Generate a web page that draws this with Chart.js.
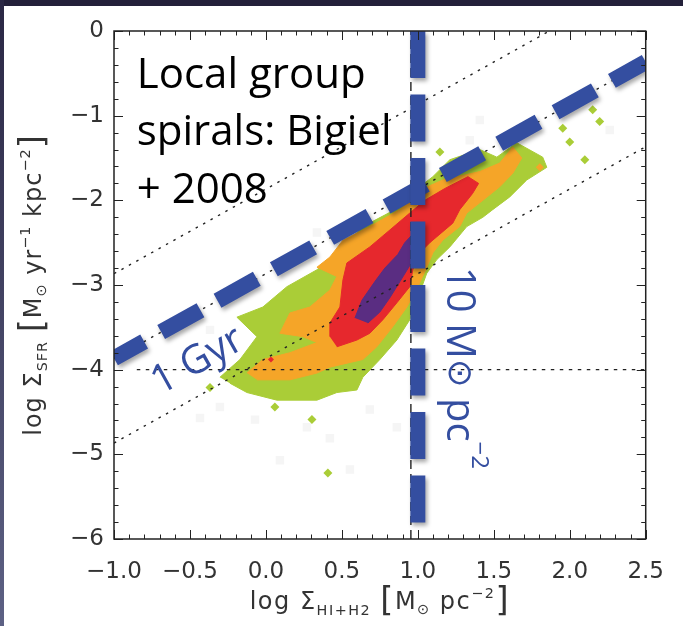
<!DOCTYPE html>
<html>
<head>
<meta charset="utf-8">
<script src="https://cdn.jsdelivr.net/npm/chart.js@4.4.0/dist/chart.umd.min.js"></script>
<style>
  html, body { margin: 0; padding: 0; background: #fff; }
  #wrap { position: relative; width: 683px; height: 626px; overflow: hidden; background: #fff; }
  #wrap canvas { position: absolute; left: 0; top: 0; }
  #topband { position: absolute; left: 0; top: 0; width: 683px; height: 6px; background: #23203a; }
  #leftband { position: absolute; left: 0; top: 0; width: 4px; height: 626px; background: linear-gradient(#2a2744, #5d6184); }
</style>
</head>
<body>
<div id="wrap">
  <canvas id="ksPlot" width="683" height="626"></canvas>
  <div id="topband"></div>
  <div id="leftband"></div>
</div>
<script>
// axis ticks
const xTicks = [-1.0, -0.5, 0.0, 0.5, 1.0, 1.5, 2.0, 2.5];
const yTicks = [0, -1, -2, -3, -4, -5, -6];

// reference lines
const depletionTimes = [1e8, 1e9, 1e10];   // yr, dotted lines
const heliumFactor = 1.36;
const gyrTime = 1e9;                       // thick blue dashed line
const gasThreshold = 10;                   // Msun pc^-2, thick blue vertical
const hiSaturation = 9;                    // Msun pc^-2, thin black dashed
const sfrFloor = -4;                       // horizontal dotted line

// density contours of the pixel distribution, outer to inner [log gas, log SFR]
const contourGreen = [
  [-0.303, -4.09], [-0.171, -3.88], [-0.059, -3.61], [-0.191, -3.38], [-0.020, -3.26],
  [0.138, -3.02], [0.336, -2.82], [0.487, -2.59], [0.638, -2.31], [0.882, -2.08],
  [1.013, -1.84], [1.099, -1.72], [1.211, -1.52], [1.408, -1.40], [1.520, -1.49],
  [1.651, -1.32], [1.822, -1.49], [1.849, -1.61], [1.717, -1.76], [1.605, -1.96],
  [1.493, -2.11], [1.428, -2.20], [1.322, -2.31], [1.211, -2.55], [1.125, -2.70],
  [1.059, -2.86], [1.013, -3.09], [0.947, -3.41], [0.862, -3.65], [0.750, -3.88],
  [0.638, -4.09], [0.599, -4.24], [0.467, -4.27], [0.336, -4.36], [0.072, -4.36],
  [-0.125, -4.27], [-0.237, -4.16]
];
const contourOrange = [
  [-0.125, -4.04], [-0.020, -3.88], [0.158, -3.80], [0.336, -3.68], [0.243, -3.61],
  [0.092, -3.57], [0.158, -3.33], [0.289, -3.26], [0.421, -3.06], [0.467, -2.90],
  [0.336, -2.79], [0.421, -2.67], [0.507, -2.47], [0.684, -2.31], [0.882, -2.11],
  [1.013, -1.88], [1.164, -1.76], [1.408, -1.66], [1.539, -1.56], [1.625, -1.37],
  [1.684, -1.50], [1.625, -1.68], [1.539, -1.84], [1.428, -2.00], [1.322, -2.15],
  [1.276, -2.31], [1.164, -2.47], [1.099, -2.62], [1.059, -2.79], [1.000, -3.02],
  [0.928, -3.26], [0.836, -3.49], [0.730, -3.73], [0.638, -3.88], [0.421, -3.97],
  [0.336, -4.04], [0.158, -4.12], [-0.059, -4.12]
];
const contourRed = [
  [0.421, -3.61], [0.421, -3.45], [0.487, -3.26], [0.507, -2.94], [0.533, -2.74],
  [0.684, -2.55], [0.816, -2.35], [0.947, -2.15], [1.046, -2.00], [1.178, -1.86],
  [1.330, -1.72], [1.400, -1.80], [1.360, -1.92], [1.276, -2.11], [1.230, -2.27],
  [1.125, -2.43], [1.079, -2.50], [1.013, -2.62], [0.967, -2.82], [0.947, -3.02],
  [0.862, -3.21], [0.770, -3.41], [0.684, -3.57], [0.599, -3.65], [0.467, -3.73]
];
const contourPurple = [
  [0.586, -3.39], [0.632, -3.18], [0.717, -2.96], [0.783, -2.80], [0.868, -2.64],
  [0.914, -2.50], [0.961, -2.41], [1.026, -2.37], [1.013, -2.59], [0.947, -2.77],
  [0.882, -2.96], [0.816, -3.15], [0.750, -3.32], [0.671, -3.45]
];
const greenSpots = [
  [0.059, -4.44], [0.303, -4.59], [-0.368, -4.21], [0.408, -5.22], [1.145, -1.43],
  [1.954, -1.15], [2.151, -0.93], [2.197, -1.07], [2.000, -1.31], [2.099, -1.52]
];
const orangeSpots = [[1.803, -1.61]];
const redSpots = [[0.033, -3.88]];
const sparseCells = [
  [-0.434, -4.57], [-0.072, -4.59], [0.270, -4.68], [0.421, -4.81], [0.862, -4.68],
  [-0.303, -4.44], [0.684, -4.47], [0.336, -2.38], [-0.368, -3.53], [1.342, -1.29],
  [1.737, -1.11], [2.033, -0.81], [2.263, -1.17], [1.408, -1.05], [0.553, -5.18],
  [0.092, -5.07]
];

// text drawn on the panel
const captionLines = ['Local group', 'spirals: Bigiel', '+ 2008'];
const captionX = -0.85;
const captionY = [-0.67, -1.35, -2.03];
const gyrLabelAt = [-0.45, -3.9];
const thresholdLabelAt = [1.27, -3.98];

const blue = '#344ea0';
const pts = arr => arr.map(([x, y]) => ({x, y}));
const xEnds = [-1, 2.5];
const depletionLine = tau => xEnds.map(x => ({x, y: x + Math.log10(heliumFactor) + 6 - Math.log10(tau)}));

function polygon(data, color, order) {
  return {type: 'line', data: pts(data), fill: 'shape', backgroundColor: color, borderColor: color,
          borderWidth: 1, pointRadius: 0, order, clip: 0};
}
function spots(data, color, style, r, order) {
  return {type: 'scatter', data: pts(data), backgroundColor: color, borderWidth: 0,
          pointStyle: style, pointRadius: r, order, clip: 0};
}
function rule(data, color, width, dash, order, extra) {
  return Object.assign({type: 'line', data, borderColor: color, borderWidth: width, borderDash: dash,
          borderCapStyle: 'butt', pointRadius: 0, fill: false, order, clip: 0}, extra || {});
}

const datasets = [
  spots(sparseCells, '#f5f5f5', 'rect', 6, 9),
  polygon(contourGreen, '#aacd37', 8),
  spots(greenSpots, '#aacd37', 'rectRot', 4.5, 7),
  polygon(contourOrange, '#f5a528', 6),
  spots(orangeSpots, '#f5a528', 'rectRot', 4, 6),
  polygon(contourRed, '#e6282d', 5),
  spots(redSpots, '#e6282d', 'rectRot', 3, 5),
  polygon(contourPurple, '#5a2d82', 4),
  ...depletionTimes.map(t => rule(depletionLine(t), '#222', 1.4, [2.5, 6], 3)),
  rule([{x: -0.85, y: sfrFloor}, {x: 2.5, y: sfrFloor}], '#222', 1.4, [3.5, 5.5], 3),
  rule([{x: Math.log10(hiSaturation), y: -6}, {x: Math.log10(hiSaturation), y: 0}], '#222', 1.4, [9, 5], 2),
  rule(depletionLine(gyrTime), blue, 16, [45, 19.5], 1, {shadow: true, borderDashOffset: 10.5}),
  rule([{x: Math.log10(gasThreshold), y: 0}, {x: Math.log10(gasThreshold), y: -6}], blue, 15, [47, 16.5], 0, {shadow: true})
];

const minus = s => String(s).replace('-', '\u2212');

// soft drop shadow under the thick blue lines
const shadowPlugin = {
  id: 'shadow',
  beforeDatasetDraw(chart, args) {
    if (!chart.data.datasets[args.index].shadow) return;
    const ctx = chart.ctx;
    ctx.save();
    ctx.shadowColor = 'rgba(0,0,0,0.35)';
    ctx.shadowBlur = 4;
    ctx.shadowOffsetX = 2;
    ctx.shadowOffsetY = 3;
  },
  afterDatasetDraw(chart, args) {
    if (chart.data.datasets[args.index].shadow) chart.ctx.restore();
  }
};

// axis box with inward major and minor ticks on all four sides
const framePlugin = {
  id: 'frame',
  afterDatasetsDraw(chart) {
    const {ctx, chartArea: a, scales: {x, y}} = chart;
    ctx.save();
    ctx.strokeStyle = '#222';
    ctx.lineWidth = 1;
    ctx.beginPath();
    for (let i = -10; i <= 25; i++) {
      const px = Math.round(x.getPixelForValue(i / 10)) + 0.5;
      const len = i % 5 === 0 ? 9 : 4.5;
      ctx.moveTo(px, a.bottom); ctx.lineTo(px, a.bottom - len);
      ctx.moveTo(px, a.top); ctx.lineTo(px, a.top + len);
    }
    for (let i = -30; i <= 0; i++) {
      const py = Math.round(y.getPixelForValue(i / 5)) + 0.5;
      const len = i % 5 === 0 ? 9 : 4.5;
      ctx.moveTo(a.left, py); ctx.lineTo(a.left + len, py);
      ctx.moveTo(a.right, py); ctx.lineTo(a.right - len, py);
    }
    ctx.stroke();
    ctx.lineWidth = 1.5;
    ctx.strokeRect(a.left, a.top, a.right - a.left, a.bottom - a.top);
    ctx.restore();
  }
};

// text runs with sub/superscripts: [text, size factor, rise in em]
function richWidth(ctx, parts, size, family) {
  let w = 0;
  for (const [t, s] of parts) {
    ctx.font = `${size * s}px ${family}`;
    w += ctx.measureText(t).width;
  }
  return w;
}
function drawRich(ctx, parts, x0, y0, size, family) {
  let cx = x0;
  for (const [t, s, rise = 0] of parts) {
    ctx.font = `${size * s}px ${family}`;
    ctx.fillText(t, cx, y0 - rise * size);
    cx += ctx.measureText(t).width;
  }
}

const axisFont = '"DejaVu Sans"';
const yTitle = [['log ', 1], ['\u03A3', 1], ['SFR', 0.6, -0.25], [' ', 1], ['[', 1.4, -0.1], ['M', 1], ['\u2299', 0.6, -0.2],
                [' yr', 1], ['\u22121', 0.6, 0.45], [' kpc', 1], ['\u22122', 0.6, 0.45], [']', 1.4, -0.1]];
const xTitle = [['log ', 1], ['\u03A3', 1], ['HI+H2', 0.6, -0.25], [' ', 1], ['[', 1.4, -0.1], ['M', 1], ['\u2299', 0.6, -0.2],
                [' pc', 1], ['\u22122', 0.6, 0.45], [']', 1.4, -0.1]];
const thresholdText = [['10 M', 1], ['\u2299', 0.85], [' pc', 1], ['\u22122', 0.6, 0.5]];

const labelPlugin = {
  id: 'labels',
  afterDraw(chart) {
    const {ctx, chartArea: a, scales: {x, y}} = chart;
    ctx.save();
    ctx.textBaseline = 'alphabetic';
    ctx.textAlign = 'left';

    // axis titles, widely spaced
    ctx.fillStyle = '#333';
    ctx.letterSpacing = '1.5px';
    let w = richWidth(ctx, xTitle, 24, axisFont);
    drawRich(ctx, xTitle, (a.left + a.right) / 2 - w / 2, 609, 24, axisFont);
    ctx.letterSpacing = '1px';
    ctx.save();
    ctx.translate(41, (a.top + a.bottom) / 2);
    ctx.rotate(-Math.PI / 2);
    w = richWidth(ctx, yTitle, 24, axisFont);
    drawRich(ctx, yTitle, -w / 2, 0, 24, axisFont);
    ctx.restore();
    ctx.letterSpacing = '0px';

    // caption
    ctx.fillStyle = '#000';
    ctx.font = '42px "Open Sans"';
    captionLines.forEach((t, i) => ctx.fillText(t, x.getPixelForValue(captionX), y.getPixelForValue(captionY[i])));

    // 1 Gyr label along the depletion line
    ctx.fillStyle = blue;
    const g = depletionLine(gyrTime);
    const ang = Math.atan2(y.getPixelForValue(g[1].y) - y.getPixelForValue(g[0].y),
                           x.getPixelForValue(g[1].x) - x.getPixelForValue(g[0].x));
    ctx.save();
    ctx.translate(x.getPixelForValue(gyrLabelAt[0]), y.getPixelForValue(gyrLabelAt[1]));
    ctx.rotate(ang);
    ctx.font = '40px "Open Sans"';
    ctx.textAlign = 'center';
    ctx.textBaseline = 'middle';
    ctx.fillText('1 Gyr', 0, 0);
    ctx.restore();

    // threshold label, reading downwards
    ctx.save();
    ctx.translate(x.getPixelForValue(thresholdLabelAt[0]), y.getPixelForValue(thresholdLabelAt[1]));
    ctx.rotate(Math.PI / 2);
    ctx.textBaseline = 'middle';
    w = richWidth(ctx, thresholdText, 40, '"Open Sans", "DejaVu Sans"');
    drawRich(ctx, thresholdText, -w / 2, 0, 40, '"Open Sans", "DejaVu Sans"');
    ctx.restore();

    ctx.restore();
  }
};

new Chart(document.getElementById('ksPlot'), {
  type: 'scatter',
  data: {datasets},
  options: {
    responsive: false,
    animation: false,
    events: [],
    layout: {padding: {top: 31, right: 37, left: 0, bottom: 0}},
    plugins: {legend: {display: false}, tooltip: {enabled: false}, title: {display: false}},
    scales: {
      x: {
        type: 'linear', min: -1, max: 2.5,
        afterBuildTicks: s => { s.ticks = xTicks.map(v => ({value: v})); },
        afterFit: s => { s.height = 87; },
        grid: {display: false, drawTicks: false},
        border: {display: false},
        ticks: {callback: v => minus(v.toFixed(1)), font: {family: 'DejaVu Sans', size: 23}, color: '#333',
                padding: 19, maxRotation: 0, autoSkip: false}
      },
      y: {
        type: 'linear', min: -6, max: 0,
        afterBuildTicks: s => { s.ticks = yTicks.map(v => ({value: v})); },
        afterFit: s => { s.width = 114; },
        grid: {display: false, drawTicks: false},
        border: {display: false},
        ticks: {callback: v => minus(v), font: {family: 'DejaVu Sans', size: 23}, color: '#333',
                padding: 10, autoSkip: false}
      }
    }
  },
  plugins: [shadowPlugin, framePlugin, labelPlugin]
});
</script>
</body>
</html>
